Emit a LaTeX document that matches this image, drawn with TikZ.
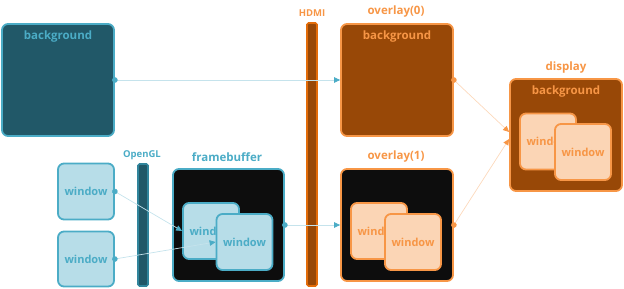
\documentclass[tikz,border=0pt]{standalone}
\usepackage{fontspec}
\setmainfont{Open Sans}
\usetikzlibrary{arrows.meta,calc}
\definecolor{tealdark}{HTML}{215868}
\definecolor{tealmid}{HTML}{4BACC6}
\definecolor{teallight}{HTML}{B7DDE8}
\definecolor{tealline}{HTML}{C5E3EC}
\definecolor{orgdark}{HTML}{984807}
\definecolor{orgmid}{HTML}{F79646}
\definecolor{orglight}{HTML}{FBD5B5}
\definecolor{orgline}{HTML}{FCD9BC}
\definecolor{nearblack}{HTML}{0D0D0D}
\definecolor{hdmiborder}{HTML}{E36C09}
\definecolor{glborder}{HTML}{31859C}
\tikzset{
  box/.style={draw, line width=1.8pt, rounded corners=6pt, inner sep=0pt},
  bigbox/.style={box, minimum width=112pt, minimum height=112pt},
  win/.style={box, minimum width=56pt, minimum height=56pt, font=\bfseries\fontsize{11}{13}\selectfont},
  bluewin/.style={win, fill=teallight, draw=tealmid, text=tealmid},
  orgwin/.style={win, fill=orglight, draw=orgmid, text=orgmid},
  bar/.style={draw, line width=1.6pt, rounded corners=1.5pt, minimum width=10pt, inner sep=0pt},
  ttl/.style={inner sep=0pt, font=\bfseries\fontsize{11.5}{13}\selectfont},
  smallttl/.style={inner sep=0pt, font=\bfseries\fontsize{9.5}{11}\selectfont},
  bconn/.style={draw=tealline, line width=0.7pt, shorten <=-2.75pt,
    {Circle[color=tealmid,length=5.5pt]}-{Triangle[color=tealmid,length=6pt,width=5.5pt]}},
  oconn/.style={draw=orgline, line width=0.7pt, shorten <=-2.75pt,
    {Circle[color=orgmid,length=5.5pt]}-{Triangle[color=orgmid,length=6pt,width=5.5pt]}},
}
\begin{document}
\begin{tikzpicture}[x=1pt,y=-1pt]
\useasboundingbox (0,0) rectangle (624,289);
% left background
\node[bigbox, fill=tealdark, draw=tealmid] (bg) at (58,80) {};
\node[ttl, text=tealmid] (bgT) at (58,37) {background};
% left windows
\node[bluewin] (wA) at (86,191.5) {window};
\node[bluewin, minimum height=55pt] (wB) at (86,259) {window};
% OpenGL bar
\node[bar, fill=tealdark, draw=glborder, minimum height=122pt] (gl) at (143,225) {};
\node[smallttl, text=tealmid] (glT) at (142,155) {OpenGL};
% framebuffer
\node[bigbox, fill=nearblack, draw=tealmid, minimum width=111pt] (fb) at (228.5,225) {};
\node[ttl, text=tealmid] (fbT) at (227,157) {framebuffer};
\node[bluewin] (fw1) at (211,231) {window};
\node[bluewin] (fw2) at (244.5,242) {window};
% HDMI bar
\node[bar, fill=orgdark, draw=hdmiborder, minimum height=263pt] (hd) at (312,154.5) {};
\node[smallttl, text=orgmid] (hdT) at (312,13) {HDMI};
% overlay(0)
\node[bigbox, fill=orgdark, draw=orgmid] (ov0) at (397,80) {};
\node[ttl, text=orgmid] (ov0T) at (396,12) {overlay(0)};
\node[ttl, text=orgmid] (ov0B) at (397,37) {background};
% overlay(1)
\node[bigbox, fill=nearblack, draw=orgmid] (ov1) at (397,225) {};
\node[ttl, text=orgmid] (ov1T) at (396,157) {overlay(1)};
\node[orgwin] (ow1) at (379,231) {window};
\node[orgwin] (ow2) at (413,242) {window};
% display
\node[bigbox, fill=orgdark, draw=orgmid] (disp) at (566,135) {};
\node[ttl, text=orgmid] (dispT) at (566,68) {display};
\node[ttl, text=orgmid] (dispB) at (566,92) {background};
\node[orgwin] (dw1) at (548,141.5) {window};
\node[orgwin] (dw2) at (583,152) {window};
\coordinate (dIn0) at ($(disp.west)+(0,-3)$);
\coordinate (dIn1) at ($(disp.west)+(0,4)$);
% connectors
\draw[bconn] (bg.east) -- (ov0.west);
\draw[bconn] (fb.east) -- (ov1.west);
\draw[bconn] (wA.east) -- (fw1.west);
\draw[bconn] (wB.east) -- (fw2.west);
\draw[oconn] (ov0.east) -- (dIn0);
\draw[oconn] (ov1.east) -- (dIn1);
\end{tikzpicture}
\end{document}
